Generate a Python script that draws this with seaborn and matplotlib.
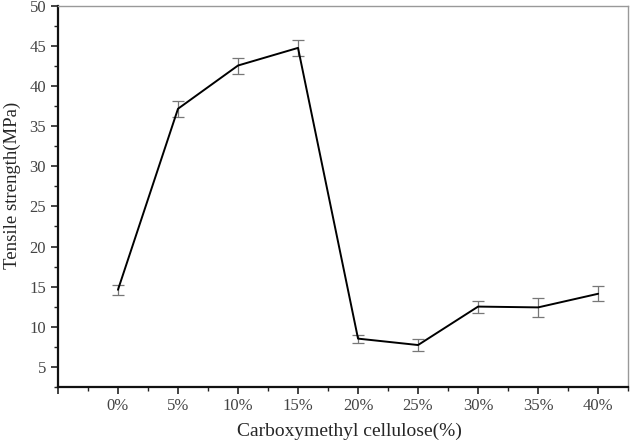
import numpy as np
import pandas as pd
import matplotlib
matplotlib.use("Agg")
import matplotlib.pyplot as plt
import seaborn as sns
from matplotlib.ticker import MultipleLocator

# data
cmc_labels = ["0%", "5%", "10%", "15%", "20%", "25%", "30%", "35%", "40%"]
tensile = [14.6, 37.2, 42.6, 44.8, 8.5, 7.7, 12.5, 12.4, 14.1]
tensile_err = [0.6, 1.0, 1.0, 1.0, 0.5, 0.7, 0.75, 1.2, 0.95]

df = pd.DataFrame({"pos": np.arange(len(cmc_labels)), "ts": tensile, "err": tensile_err})

sns.set_style("ticks")
plt.rcParams["font.family"] = ["Liberation Serif", "DejaVu Serif"]

fig = plt.figure(figsize=(6.3, 4.46), dpi=100)
ax = fig.add_axes([0.092, 0.133, 0.905, 0.853])

ax.errorbar(df["pos"], df["ts"], yerr=df["err"], fmt="none", ecolor="#777777",
            elinewidth=0.9, capsize=4, capthick=0.9, zorder=2)
sns.lineplot(data=df, x="pos", y="ts", ax=ax, color="black", linewidth=1.4, zorder=3)

ax.set_xlim(-1, 8.5)
ax.set_ylim(2.5, 50)
ax.set_xticks(np.arange(-1, 9))
ax.set_xticklabels([""] + cmc_labels)
ax.xaxis.set_minor_locator(MultipleLocator(0.5))
ax.yaxis.set_minor_locator(MultipleLocator(2.5))
ax.set_yticks(np.arange(5, 51, 5))

ax.tick_params(axis="both", which="major", direction="out", length=5, width=1.2,
               labelsize=12, labelcolor="#444444", color="#222222")
ax.tick_params(axis="both", which="minor", direction="out", length=3, width=1.0, color="#222222")

for s in ["left", "bottom"]:
    ax.spines[s].set_linewidth(1.6)
    ax.spines[s].set_color("#111111")
for s in ["top", "right"]:
    ax.spines[s].set_linewidth(1.0)
    ax.spines[s].set_color("#999999")

ax.set_xlabel("Carboxymethyl cellulose(%)", fontsize=14)
ax.set_ylabel("Tensile strength(MPa)", fontsize=13.5)
ax.xaxis.set_label_coords(0.512, -0.095)
ax.yaxis.set_label_coords(-0.064, 0.53)

fig.savefig("out.png", dpi=100)
